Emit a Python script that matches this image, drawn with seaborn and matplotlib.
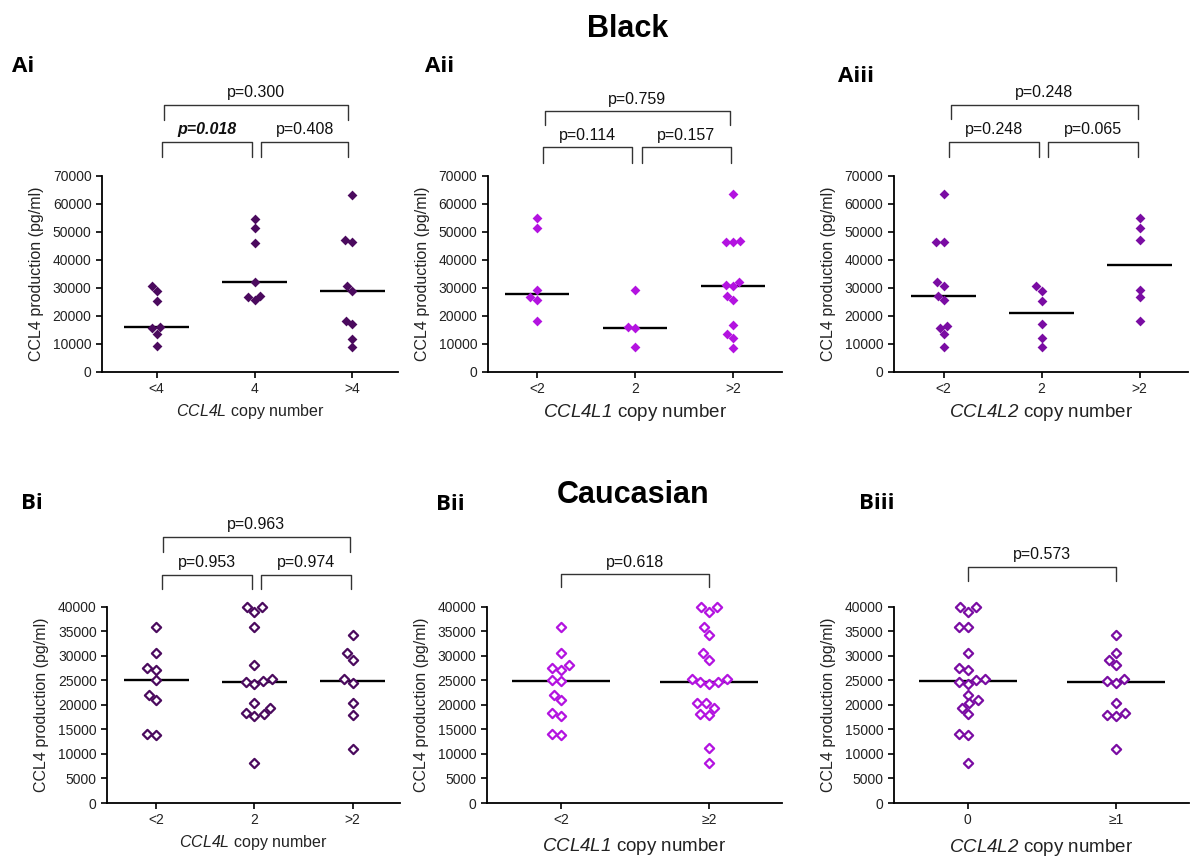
import numpy as np
import pandas as pd
import matplotlib
matplotlib.use("Agg")
import matplotlib.pyplot as plt
import seaborn as sns

# ---------------- data (pg/ml) ----------------
# Black – CCL4L
ai_groups = ["<4", "4", ">4"]
ai_lt4 = [30800, 29000, 25400, 15900, 15500, 13500, 9100]
ai_eq4 = [54600, 51300, 46100, 32000, 27100, 26700, 25500]
ai_gt4 = [63200, 46900, 46300, 30500, 29000, 18200, 17100, 11900, 8800]
ai_pvals = ["p=0.018", "p=0.408", "p=0.300"]

# Black – CCL4L1
aii_groups = ["<2", "2", ">2"]
aii_lt2 = [54900, 51500, 29100, 26600, 25500, 18300]
aii_eq2 = [29100, 16000, 15700, 9000]
aii_gt2 = [63300, 46800, 46400, 46200, 32100, 30900, 30600, 27000, 25700,
           16900, 13500, 12000, 8700]
aii_pvals = ["p=0.114", "p=0.157", "p=0.759"]

# Black – CCL4L2
aiii_groups = ["<2", "2", ">2"]
aiii_lt2 = [63300, 46400, 46400, 32100, 30800, 27000, 25600, 16300, 15600,
            13500, 9000]
aiii_eq2 = [30600, 29000, 25400, 17000, 12000, 8900]
aiii_gt2 = [54800, 51500, 46900, 29100, 26600, 18300]
aiii_pvals = ["p=0.248", "p=0.065", "p=0.248"]

# Caucasian – CCL4L
bi_groups = ["<2", "2", ">2"]
bi_lt2 = [35900, 30600, 27500, 27200, 25000, 22100, 21000, 14000, 13800]
bi_eq2 = [40000, 39900, 39000, 35800, 28100, 25300, 24900, 24700, 24200,
          20300, 19400, 18300, 18100, 17800, 8100]
bi_gt2 = [34300, 30500, 29100, 25300, 24500, 20300, 17900, 11100]
bi_pvals = ["p=0.953", "p=0.974", "p=0.963"]

# Caucasian – CCL4L1
bii_groups = ["<2", "\u22652"]
bii_lt2 = [35900, 30600, 28100, 27500, 27200, 25000, 24800, 22100, 21000,
           18300, 17800, 14000, 13800]
bii_ge2 = [39900, 39900, 39000, 35800, 34300, 30500, 29100, 25300, 25300,
           24700, 24700, 24200, 20400, 20300, 19400, 18100, 17900, 11200, 8100]
bii_pvals = ["p=0.618"]

# Caucasian – CCL4L2
biii_groups = ["0", "\u22651"]
biii_zero = [39900, 39900, 39000, 35900, 35800, 30600, 27500, 27200, 25300,
             25000, 24700, 24200, 22100, 21000, 20300, 19400, 18100, 14000,
             13800, 8100]
biii_ge1 = [34300, 30500, 29100, 28100, 25300, 24900, 24500, 20400, 18300,
            17900, 17800, 11100]
biii_pvals = ["p=0.573"]

# ---------------- style ----------------
sns.set_style("ticks")
plt.rcParams["font.family"] = ["Liberation Sans", "DejaVu Sans"]
plt.rcParams["mathtext.fontset"] = "custom"
plt.rcParams["mathtext.rm"] = "Liberation Sans:italic"
plt.rcParams["mathtext.it"] = "Liberation Sans:italic"
plt.rcParams["mathtext.bf"] = "Liberation Sans:bold"
plt.rcParams["text.color"] = "black"

DARK = "#4b0a5e"
BRIGHT = "#b313e0"
MID = "#7a0ca3"

fig = plt.figure(figsize=(11.9, 8.57), dpi=100)


def bracket(ax, x0, x1, ybot, ytop, text, bold=False):
    tr = ax.get_xaxis_transform()
    ax.plot([x0, x0, x1, x1], [ybot, ytop, ytop, ybot], color="#333333",
            lw=1.0, transform=tr, clip_on=False)
    ax.text((x0 + x1) / 2, ytop + 0.06, text, transform=tr, ha="center",
            va="center", fontsize=11.5,
            fontweight="bold" if bold else "normal",
            style="italic" if bold else "normal", color="#111111")


def panel(rect, groups, values, color, hollow, ymax, ystep, xlim, gene,
          xsize, xpad, brackets):
    ax = fig.add_axes(rect)
    df = pd.DataFrame({
        "group": np.repeat(groups, [len(v) for v in values]),
        "value": np.concatenate(values),
    })
    sns.boxplot(data=df, x="group", y="value", order=groups, width=0.66,
                showbox=False, showcaps=False, showfliers=False,
                whiskerprops={"visible": False},
                medianprops={"color": "black", "linewidth": 1.7}, ax=ax)
    n0 = len(ax.collections)
    sns.swarmplot(data=df, x="group", y="value", order=groups, color=color,
                  marker="D", size=5.0 if not hollow else 4.7, ax=ax,
                  zorder=3, linewidth=0)
    for c in ax.collections[n0:]:
        c.set_clip_on(False)
        if hollow:
            c.set_facecolor("white")
            c.set_edgecolor(color)
            c.set_linewidth(1.6)
    ax.set_xlim(*xlim)
    ax.set_ylim(0, ymax)
    ax.set_yticks(np.arange(0, ymax + 1, ystep))
    sns.despine(ax=ax)
    for s in ("left", "bottom"):
        ax.spines[s].set_linewidth(1.3)
        ax.spines[s].set_color("black")
    ax.tick_params(direction="out", length=4, width=1.2, color="black",
                   labelsize=10, labelcolor="#222222")
    ax.set_ylabel("CCL4 production (pg/ml)", fontsize=11.5, labelpad=6,
                  color="#222222")
    ax.set_xlabel(f"$\\mathit{{{gene}}}$ copy number", fontsize=xsize,
                  labelpad=xpad, color="#222222")
    for (x0, x1, yb, yt, txt, bold) in brackets:
        bracket(ax, x0, x1, yb, yt, txt, bold)
    return ax


H = 0.229
TOP_B = 0.566
BOT_B = 0.063

panel([0.0857, TOP_B, 0.249, H], ai_groups, [ai_lt4, ai_eq4, ai_gt4], DARK,
      False, 70000, 10000, (-0.56, 2.47), "CCL4L", 11.5, 4,
      [(0.05, 0.97, 1.097, 1.173, ai_pvals[0], True),
       (1.07, 1.96, 1.097, 1.173, ai_pvals[1], False),
       (0.07, 1.96, 1.286, 1.362, ai_pvals[2], False)])

panel([0.410, TOP_B, 0.247, H], aii_groups, [aii_lt2, aii_eq2, aii_gt2],
      BRIGHT, False, 70000, 10000, (-0.5, 2.5), "CCL4L1", 13.5, 4,
      [(0.06, 0.97, 1.067, 1.144, aii_pvals[0], False),
       (1.07, 1.98, 1.067, 1.144, aii_pvals[1], False),
       (0.08, 1.97, 1.256, 1.328, aii_pvals[2], False)])

panel([0.751, TOP_B, 0.247, H], aiii_groups, [aiii_lt2, aiii_eq2, aiii_gt2],
      MID, False, 70000, 10000, (-0.51, 2.49), "CCL4L2", 13.5, 4,
      [(0.05, 0.97, 1.097, 1.173, aiii_pvals[0], False),
       (1.07, 1.98, 1.097, 1.173, aiii_pvals[1], False),
       (0.07, 1.98, 1.29, 1.362, aiii_pvals[2], False)])

panel([0.090, BOT_B, 0.246, H], bi_groups, [bi_lt2, bi_eq2, bi_gt2], DARK,
      True, 40000, 5000, (-0.5, 2.48), "CCL4L", 11.5, 4,
      [(0.06, 0.97, 1.092, 1.163, bi_pvals[0], False),
       (1.07, 1.98, 1.092, 1.163, bi_pvals[1], False),
       (0.07, 1.97, 1.281, 1.357, bi_pvals[2], False)])

panel([0.409, BOT_B, 0.248, H], bii_groups, [bii_lt2, bii_ge2], BRIGHT,
      True, 40000, 5000, (-0.5, 1.49), "CCL4L1", 13.5, 6,
      [(0.0, 1.0, 1.102, 1.168, bii_pvals[0], False)])

panel([0.751, BOT_B, 0.248, H], biii_groups, [biii_zero, biii_ge1], MID,
      True, 40000, 5000, (-0.5, 1.49), "CCL4L2", 13.5, 7,
      [(0.0, 1.0, 1.133, 1.204, biii_pvals[0], False)])

# titles and panel labels
fig.text(0.527, 0.957, "Black", ha="center", va="baseline", fontsize=22,
         fontweight="bold", color="black")
fig.text(0.532, 0.413, "Caucasian", ha="center", va="baseline", fontsize=22,
         fontweight="bold", color="black")
for txt, x, y in [("Ai", 0.010, 0.916), ("Aii", 0.357, 0.916),
                  ("Aiii", 0.704, 0.904), ("Bi", 0.018, 0.406),
                  ("Bii", 0.366, 0.405), ("Biii", 0.722, 0.406)]:
    fig.text(x, y, txt, ha="left", va="baseline", fontsize=16,
             fontweight="bold", color="black",
             family=["Open Sans", "DejaVu Sans"])

fig.savefig("out.png", dpi=100)
